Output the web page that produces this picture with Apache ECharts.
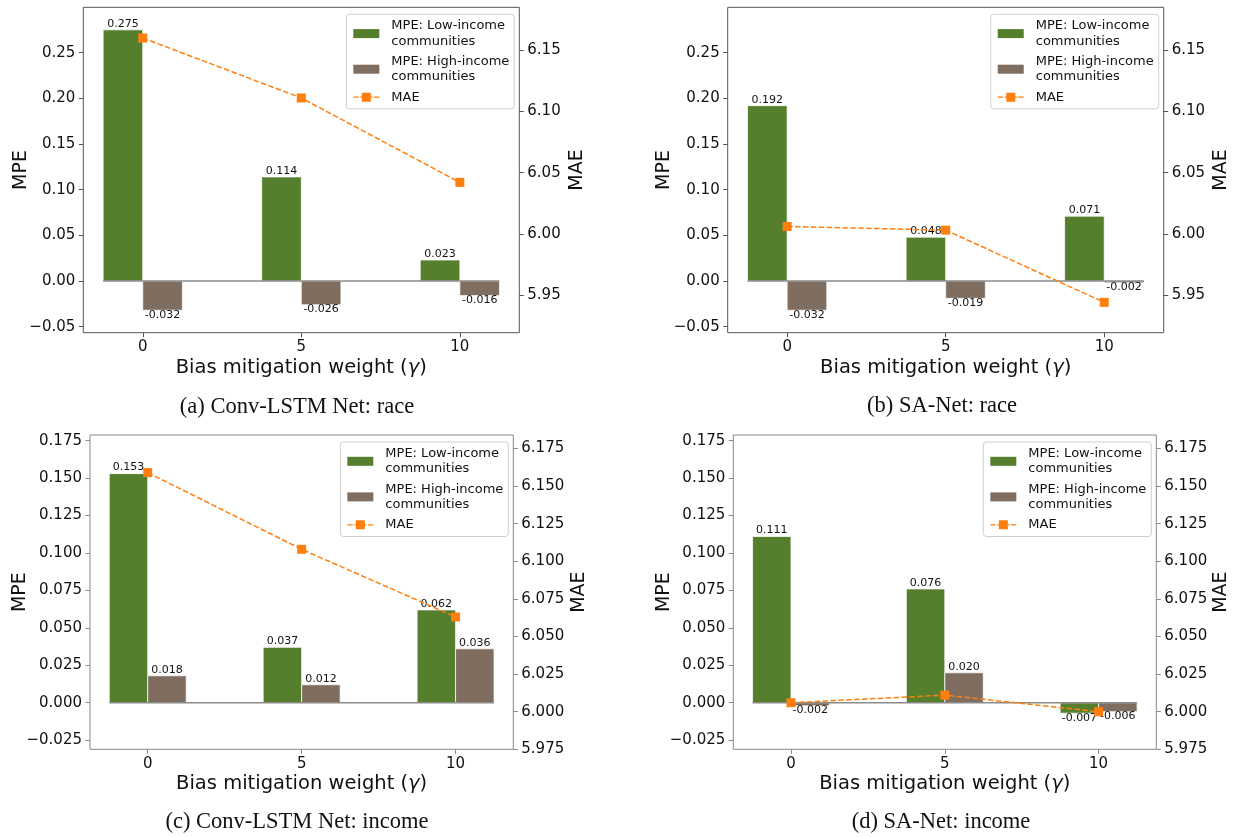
<!DOCTYPE html>
<html>
<head>
<meta charset="utf-8">
<script src="https://cdn.jsdelivr.net/npm/echarts@6/dist/echarts.min.js"></script>
<style>html,body{margin:0;padding:0;background:#fff}#c{width:1237px;height:837px}</style>
</head>
<body>
<div id="c"></div>
<script>
// ---- data ----
const weights = [0, 5, 10];
const convRaceLow  = [0.275, 0.114, 0.023];
const convRaceHigh = [-0.032, -0.026, -0.016];
const convRaceMAE  = [6.160, 6.111, 6.042];
const saRaceLow    = [0.192, 0.048, 0.071];
const saRaceHigh   = [-0.032, -0.019, -0.002];
const saRaceMAE    = [6.006, 6.003, 5.944];
const convIncLow   = [0.153, 0.037, 0.062];
const convIncHigh  = [0.018, 0.012, 0.036];
const convIncMAE   = [6.159, 6.108, 6.063];
const saIncLow     = [0.111, 0.076, -0.007];
const saIncHigh    = [-0.002, 0.020, -0.006];
const saIncMAE     = [6.006, 6.011, 6.000];
const xTicks = [0, 5, 10];
const mpeTicksRace = [-0.05, 0, 0.05, 0.10, 0.15, 0.20, 0.25];
const maeTicksRace = [5.95, 6.00, 6.05, 6.10, 6.15];
const mpeTicksInc = [-0.025, 0, 0.025, 0.05, 0.075, 0.10, 0.125, 0.15, 0.175];
const maeTicksInc = [5.975, 6.0, 6.025, 6.05, 6.075, 6.10, 6.125, 6.15, 6.175];
const captions = ['(a) Conv-LSTM Net: race', '(b) SA-Net: race', '(c) Conv-LSTM Net: income', '(d) SA-Net: income'];
const nameLow = 'MPE: Low-income\ncommunities';
const nameHigh = 'MPE: High-income\ncommunities';
const nameMAE = 'MAE';

// ---- style / layout ----
const GREEN = '#557f2d', BROWN = '#7f6d5f', ORANGE = '#ff7f0e';
const BAR_W = 1.25;
const FONT = 'DejaVu Sans';
const MAE_ICON = 'path://M0,3.8H5.5V5.2H0Z M7,3.8H8.5V5.2H7Z M8.5,0H17.5V9H8.5Z M17.5,3.8H19V5.2H17.5Z M20.5,3.8H26V5.2H20.5Z';
const panels = [
  {low: convRaceLow, high: convRaceHigh, mae: convRaceMAE, mpeTicks: mpeTicksRace, maeTicks: maeTicksRace, dec: 2,
   left: 83.3, top: 7.3, width: 436, height: 325.4, yMin: -0.0566, yMax: 0.2997, rMin: 5.9192, rMax: 6.1851,
   border: '#555', mpeGap: 53, maeGap: 48.5, cap: [297, 407]},
  {low: saRaceLow, high: saRaceHigh, mae: saRaceMAE, mpeTicks: mpeTicksRace, maeTicks: maeTicksRace, dec: 2,
   left: 727.7, top: 7.3, width: 436, height: 325.4, yMin: -0.0566, yMax: 0.2997, rMin: 5.9192, rMax: 6.1851,
   border: '#555', mpeGap: 54, maeGap: 48, cap: [942, 406]},
  {low: convIncLow, high: convIncHigh, mae: convIncMAE, mpeTicks: mpeTicksInc, maeTicks: maeTicksInc, dec: 3,
   left: 90, top: 435, width: 423.3, height: 314.3, yMin: -0.0311, yMax: 0.1788, rMin: 5.975, rMax: 6.184,
   border: '#888', mpeGap: 60, maeGap: 56.5, cap: [297, 822]},
  {low: saIncLow, high: saIncHigh, mae: saIncMAE, mpeTicks: mpeTicksInc, maeTicks: maeTicksInc, dec: 3,
   left: 733.3, top: 435, width: 423, height: 314.3, yMin: -0.0311, yMax: 0.1788, rMin: 5.975, rMax: 6.184,
   border: '#888', mpeGap: 59.5, maeGap: 55.5, cap: [941, 822]}
];

function minus(s) { return String(s).replace('-', '\u2212'); }

function barSeries(name, vals, side, color, gi) {
  return {
    type: 'custom', name: name, xAxisIndex: gi, yAxisIndex: gi * 2, z: 2,
    itemStyle: {color: color},
    encode: {x: 0, y: 1},
    data: weights.map((w, i) => [w, vals[i]]),
    renderItem: function (params, api) {
      const x = api.value(0), v = api.value(1);
      const x0 = side < 0 ? x - BAR_W : x;
      const x1 = side < 0 ? x : x + BAR_W;
      const p0 = api.coord([x0, 0]);
      const p1 = api.coord([x1, v]);
      const top = Math.min(p0[1], p1[1]);
      const h = Math.abs(p1[1] - p0[1]);
      const cx = (p0[0] + p1[0]) / 2;
      const ly = v >= 0 ? p1[1] - 6 : p1[1] + 4.5;
      return {
        type: 'group',
        children: [
          {type: 'rect', shape: {x: p0[0], y: top, width: p1[0] - p0[0], height: h},
           style: {fill: color, stroke: 'rgba(255,255,255,0.75)', lineWidth: 1}},
          {type: 'text', z2: 5, style: {text: v.toFixed(3), x: cx, y: ly, align: 'center', verticalAlign: 'middle',
            font: '11px "' + FONT + '"', fill: '#111'}}
        ]
      };
    }
  };
}

const grid = [], xAxis = [], yAxis = [], series = [], legend = [], graphic = [];
panels.forEach((p, gi) => {
  grid.push({left: p.left, top: p.top, width: p.width, height: p.height, show: true,
    borderColor: p.border, borderWidth: 1, backgroundColor: 'transparent', containLabel: false});
  const tickStyle = {show: true, length: 4.5, lineStyle: {color: p.border, width: 1}};
  xAxis.push({type: 'value', gridIndex: gi, min: -1.875, max: 11.875, position: 'bottom',
    axisLine: {show: false, onZero: false}, splitLine: {show: false},
    axisTick: Object.assign({customValues: xTicks}, tickStyle),
    axisLabel: {customValues: xTicks, margin: 7, fontSize: 15, fontFamily: FONT, color: '#111'},
    name: 'Bias mitigation weight ({g|\u03b3})', nameLocation: 'middle', nameGap: 25, nameMoveOverlap: false,
    nameTextStyle: {fontSize: 19.5, fontFamily: FONT, color: '#111',
      rich: {g: {fontSize: 19.5, fontFamily: FONT, fontStyle: 'italic', color: '#111'}}}});
  yAxis.push({type: 'value', gridIndex: gi, position: 'left', min: p.yMin, max: p.yMax,
    axisLine: {show: false, onZero: false}, splitLine: {show: false},
    axisTick: Object.assign({customValues: p.mpeTicks}, tickStyle),
    axisLabel: {customValues: p.mpeTicks, margin: 8, fontSize: 15, fontFamily: FONT, color: '#111',
      formatter: v => minus(v.toFixed(p.dec))},
    name: 'MPE', nameLocation: 'middle', nameRotate: 90, nameGap: p.mpeGap, nameMoveOverlap: false,
    nameTextStyle: {fontSize: 19, fontFamily: FONT, color: '#111'}});
  yAxis.push({type: 'value', gridIndex: gi, position: 'right', min: p.rMin, max: p.rMax,
    axisLine: {show: false, onZero: false}, splitLine: {show: false},
    axisTick: Object.assign({customValues: p.maeTicks}, tickStyle),
    axisLabel: {customValues: p.maeTicks, margin: 8, fontSize: 15, fontFamily: FONT, color: '#111',
      formatter: v => minus(v.toFixed(p.dec))},
    name: 'MAE', nameLocation: 'middle', nameRotate: 90, nameGap: p.maeGap, nameMoveOverlap: false,
    nameTextStyle: {fontSize: 19, fontFamily: FONT, color: '#111'}});
  series.push(barSeries(nameLow, p.low, -1, GREEN, gi));
  series.push(barSeries(nameHigh, p.high, 1, BROWN, gi));
  series.push({type: 'line', name: 'zero', xAxisIndex: gi, yAxisIndex: gi * 2, z: 3, silent: true,
    symbol: 'none', lineStyle: {color: '#8a8a8a', width: 1.5},
    data: [[weights[0] - BAR_W, 0], [weights[weights.length - 1] + BAR_W, 0]]});
  series.push({type: 'line', name: nameMAE, xAxisIndex: gi, yAxisIndex: gi * 2 + 1, z: 4,
    symbol: 'rect', symbolSize: 9, itemStyle: {color: ORANGE},
    lineStyle: {color: ORANGE, width: 1.5, type: [5.5, 2.4]},
    data: weights.map((w, i) => [w, p.mae[i]])});
  legend.push({orient: 'vertical', right: 1237 - (p.left + p.width - 5), top: p.top + 7,
    padding: [4, 5, 4, 7], itemGap: 5, itemWidth: 26, itemHeight: 9,
    borderColor: '#cfcfcf', borderWidth: 1, borderRadius: 3, backgroundColor: 'rgba(255,255,255,0.85)',
    selectedMode: false,
    textStyle: {fontSize: 13, fontFamily: FONT, color: '#111', lineHeight: 15.3, padding: [0, 0, 0, 7]},
    data: [{name: nameLow, icon: 'rect'}, {name: nameHigh, icon: 'rect'}, {name: nameMAE, icon: MAE_ICON}]});
  graphic.push({type: 'text', x: p.cap[0], y: p.cap[1],
    style: {text: captions[gi], align: 'center', verticalAlign: 'middle', font: '22.5px "Liberation Serif"', fill: '#111'}});
});

const chart = echarts.init(document.getElementById('c'), null, {renderer: 'canvas'});
chart.setOption({animation: false, backgroundColor: '#fff', grid, xAxis, yAxis, series, legend, graphic});
</script>
</body>
</html>
